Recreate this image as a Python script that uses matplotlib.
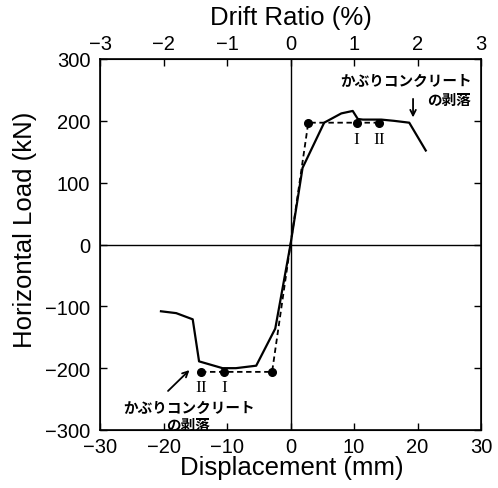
import numpy as np
import matplotlib.pyplot as plt

# envelope curve (solid)
disp = [-20.4, -18.0, -15.4, -14.4, -10.7, -8.6, -5.4, -2.4, 0.0,
        1.9, 5.3, 8.0, 9.8, 10.6, 11.4, 14.3, 16.3, 18.7, 21.3]
load = [-108, -111, -121, -189, -200, -200, -196, -136, 0,
        124, 197, 212, 216, 203, 202, 202, 200, 197, 152]

# idealized (dashed)
ideal_disp = [-14.1, -10.4, -2.9, 0.0, 2.8, 10.4, 13.9]
ideal_load = [-206, -206, -206, 0, 197, 197, 197]

# marked points
pt_disp = [-14.1, -10.4, -2.9, 2.8, 10.4, 13.9]
pt_load = [-206, -206, -206, 197, 197, 197]

xticks = [-30, -20, -10, 0, 10, 20, 30]
yticks = [-300, -200, -100, 0, 100, 200, 300]
drift_ticks = [-3, -2, -1, 0, 1, 2, 3]

plt.rcParams['font.family'] = ['Liberation Sans', 'DejaVu Sans']

W, H = 498, 489
fig = plt.figure(figsize=(W / 100, H / 100), dpi=100)
ax = fig.add_axes([100 / W, 1 - 431 / H, 381 / W, 371 / H])

ax.axhline(0, color='black', lw=1.0)
ax.axvline(0, color='black', lw=1.0)

ax.plot(ideal_disp, ideal_load, color='black', lw=1.3, ls=(0, (3, 2)))
ax.plot(disp, load, color='black', lw=1.6)
ax.plot(pt_disp, pt_load, 'o', color='black', ms=5.5)

ax.set_xlim(-30, 30)
ax.set_ylim(-300, 300)
ax.set_xticks(xticks)
ax.set_yticks(yticks)
ax.set_xticklabels(['\u221230', '\u221220', '\u221210', '0', '10', '20', '30'])
ax.set_yticklabels(['\u2212300', '\u2212200', '\u2212100', '0', '100', '200', '300'])
ax.tick_params(direction='in', length=5, width=1.0, labelsize=14.5, right=True)
ax.tick_params(axis='x', pad=5)
ax.tick_params(axis='y', pad=7)
for s in ax.spines.values():
    s.set_linewidth(1.2)

top = ax.twiny()
top.set_xlim(-3, 3)
top.set_xticks(drift_ticks)
top.set_xticklabels(['\u22123', '\u22122', '\u22121', '0', '1', '2', '3'])
top.tick_params(direction='in', length=5, width=1.0, labelsize=14.5, pad=4)

# axis titles
fig.text(292 / W, 1 - 475 / H, 'Displacement (mm)', fontsize=18.5,
         ha='center', va='baseline')
fig.text(291 / W, 1 - 25 / H, 'Drift Ratio (%)', fontsize=18.5,
         ha='center', va='baseline')
fig.text(32 / W, 1 - 230 / H, 'Horizontal Load (kN)', fontsize=18.5,
         ha='center', va='baseline', rotation=90, rotation_mode='anchor')

jp = dict(family=['Noto Sans CJK JP', 'DejaVu Sans'], fontsize=10.5, fontweight='bold')
serif = dict(family='Liberation Serif', fontsize=12.5)

# roman numerals
ax.text(10.4, 170, 'I', ha='center', va='center', **serif)
ax.text(13.9, 170, 'II', ha='center', va='center', **serif)
ax.text(-10.4, -231, 'I', ha='center', va='center', **serif)
ax.text(-14.1, -231, 'II', ha='center', va='center', **serif)

# annotations
ax.text(18.2, 267, 'かぶりコンクリート', ha='center', va='center', **jp)
ax.text(28.4, 236, 'の剥落', ha='right', va='center', **jp)
ax.annotate('', xy=(19.3, 201), xytext=(19.3, 240),
            arrowprops=dict(arrowstyle='->', color='black', lw=1.3))

ax.text(-16.0, -262, 'かぶりコンクリート', ha='center', va='center', **jp)
ax.text(-16.1, -290, 'の剥落', ha='center', va='center', **jp)
ax.annotate('', xy=(-15.6, -200), xytext=(-19.6, -240),
            arrowprops=dict(arrowstyle='->', color='black', lw=1.3))

fig.savefig('out.png', dpi=100)
